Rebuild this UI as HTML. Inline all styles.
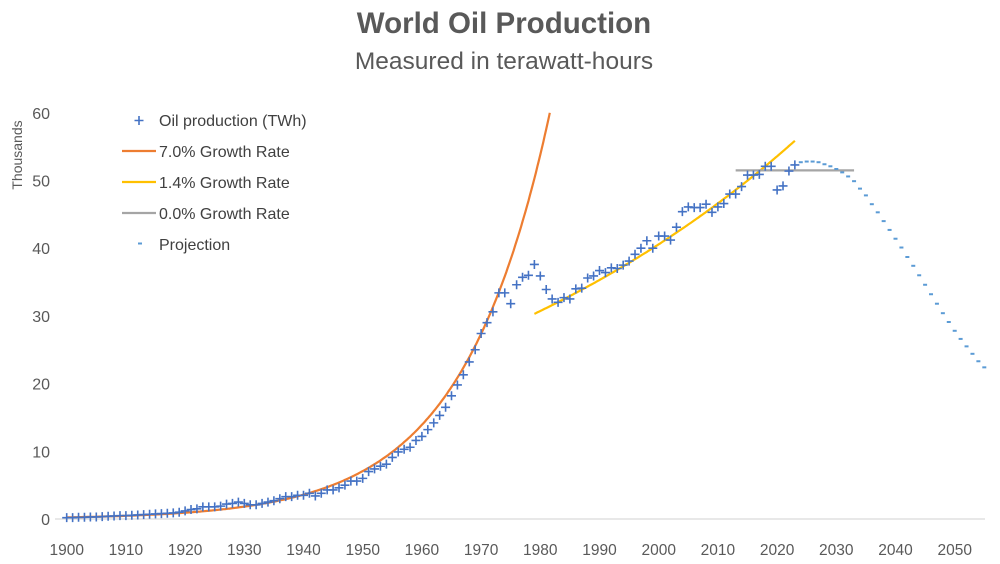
<!DOCTYPE html>
<html><head><meta charset="utf-8"><title>World Oil Production</title>
<style>
html,body{margin:0;padding:0;background:#fff;}
svg{display:block;font-family:"Liberation Sans",sans-serif;}
</style></head>
<body>
<svg id="chart" width="1000" height="564" viewBox="0 0 1000 564">
  <text x="504" y="33" text-anchor="middle" font-size="29.5" font-weight="bold" fill="#595959">World Oil Production</text>
  <text x="504" y="69" text-anchor="middle" font-size="24.5" fill="#595959">Measured in terawatt-hours</text>
  <text transform="translate(22,155) rotate(-90)" text-anchor="middle" font-size="14" fill="#595959">Thousands</text>
  <g id="axes"></g>
  <g id="series"></g>
  <g id="legend">
    <g>
      <path d="M134.5 120.5h9M139 116v9" stroke="#4472C4" stroke-width="1.6"/>
      <text x="159" y="126" font-size="16" fill="#404040">Oil production (TWh)</text>
    </g>
    <g>
      <line x1="122" y1="151" x2="156" y2="151" stroke="#ED7D31" stroke-width="2.2"/>
      <text x="159" y="157" font-size="16" fill="#404040">7.0% Growth Rate</text>
    </g>
    <g>
      <line x1="122" y1="182" x2="156" y2="182" stroke="#FFC000" stroke-width="2.2"/>
      <text x="159" y="188" font-size="16" fill="#404040">1.4% Growth Rate</text>
    </g>
    <g>
      <line x1="122" y1="213" x2="156" y2="213" stroke="#A5A5A5" stroke-width="2.2"/>
      <text x="159" y="219" font-size="16" fill="#404040">0.0% Growth Rate</text>
    </g>
    <g>
      <line x1="138" y1="243.5" x2="142" y2="243.5" stroke="#5B9BD5" stroke-width="2"/>
      <text x="159" y="250" font-size="16" fill="#404040">Projection</text>
    </g>
  </g>
</svg>
<script>
const startYear = 1900;
const production = [
0.2,0.2,0.25,0.25,0.3,0.3,0.35,0.4,0.45,0.5,
0.5,0.55,0.6,0.65,0.7,0.75,0.8,0.85,0.9,1.0,
1.2,1.4,1.5,1.8,1.8,1.8,1.9,2.2,2.3,2.5,
2.3,2.1,2.1,2.3,2.5,2.7,3.0,3.3,3.3,3.5,
3.5,3.8,3.4,3.8,4.3,4.3,4.6,5.0,5.6,5.6,
6.0,7.0,7.4,7.8,8.1,9.1,9.9,10.3,10.6,11.6,
12.2,13.2,14.2,15.3,16.5,18.2,19.8,21.3,23.2,25.0,
27.4,29.0,30.6,33.4,33.4,31.8,34.6,35.7,36.0,37.6,
35.9,33.9,32.5,32.0,32.7,32.5,34.0,34.1,35.6,35.9,
36.7,36.4,37.1,37.0,37.5,38.1,39.1,40.0,41.1,40.0,
41.8,41.8,41.2,43.1,45.4,46.1,46.0,46.0,46.5,45.3,
46.1,46.6,48.0,48.0,49.1,50.8,50.8,50.9,52.1,52.1,
48.6,49.2,51.4,52.3];
const projectionStart = 2024;
const projection = [52.7,52.8,52.8,52.7,52.4,52.1,51.7,51.2,50.6,49.9,
48.8,47.8,46.5,45.3,44.0,42.7,41.4,40.1,38.7,37.4,
36.0,34.6,33.2,31.8,30.4,29.1,27.8,26.6,25.5,24.4,23.3,22.4];
const growth7 = {base: 0.24, baseYear: 1900, rate: 0.07, end: 1982};
const growth14 = {base: 30.3, baseYear: 1979, rate: 0.014, end: 2023};
const flat0 = {value: 51.5, from: 2013, to: 2033};
const yTicks = [0,10,20,30,40,50,60];
const xTicks = [1900,1910,1920,1930,1940,1950,1960,1970,1980,1990,2000,2010,2020,2030,2040,2050];

const NS = "http://www.w3.org/2000/svg";
const X = yr => 66.7 + (yr - 1900) * 5.92;
const Y = v => 519 - v * 6.77;
function mk(tag, attrs, parent){const e=document.createElementNS(NS,tag);for(const k in attrs)e.setAttribute(k,attrs[k]);parent.appendChild(e);return e;}
const axes=document.getElementById('axes'), series=document.getElementById('series');

const baseline = mk('line',{x1:55,y1:519,x2:985,y2:519,stroke:'#D9D9D9','stroke-width':1.2},axes);


yTicks.forEach(t=>{
  const tx=mk('text',{x:50,y:Y(t)+6,'text-anchor':'end','font-size':16,fill:'#595959'},axes);
  tx.textContent=t;
  
  
});
xTicks.forEach(t=>{
  const tx=mk('text',{x:X(t),y:555,'text-anchor':'middle','font-size':15.5,fill:'#595959'},axes);
  tx.textContent=t;
  
  
});

function growthPath(g){
  let d='';
  for(let yr=g.baseYear; yr<=g.end+1e-9; yr+=0.25){
    let v=g.base*Math.pow(1+g.rate, yr-g.baseYear);
    if(v>60){ const yEnd=g.baseYear+Math.log(60/g.base)/Math.log(1+g.rate); d+='L'+X(yEnd).toFixed(1)+' '+Y(60).toFixed(1); break;}
    d+=(d?'L':'M')+X(yr).toFixed(1)+' '+Y(v).toFixed(1);
  }
  return d;
}
const l7=mk('path',{d:growthPath(growth7),fill:'none',stroke:'#ED7D31','stroke-width':2.2},series);


const l14=mk('path',{d:growthPath(growth14),fill:'none',stroke:'#FFC000','stroke-width':2.2},series);


const l0=mk('line',{x1:X(flat0.from),y1:Y(flat0.value),x2:X(flat0.to),y2:Y(flat0.value),stroke:'#A5A5A5','stroke-width':2.2},series);



production.forEach((v,i)=>{
  const cx=X(startYear+i), cy=Y(v);
  const p=mk('path',{d:`M${cx-4.5} ${cy}h9M${cx} ${cy-4.5}v9`,stroke:'#4472C4','stroke-width':1.6,fill:'none'},series);
  
  
});
projection.forEach((v,i)=>{
  const cx=X(projectionStart+i), cy=Y(v);
  const p=mk('line',{x1:cx-2,y1:cy,x2:cx+2,y2:cy,stroke:'#5B9BD5','stroke-width':2},series);
  
  
});
</script>
</body></html>
